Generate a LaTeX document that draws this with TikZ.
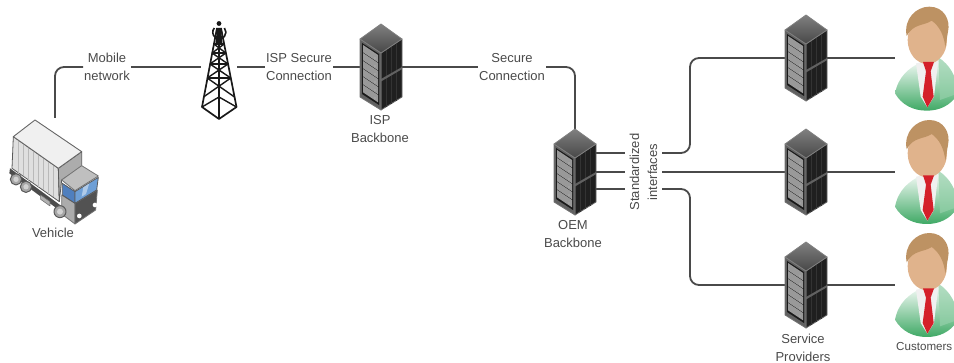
\documentclass[tikz,border=0pt]{standalone}
\usepackage{fontspec}
\setmainfont{Liberation Sans}
\definecolor{ink}{HTML}{4A4A4A}
\definecolor{wire}{HTML}{4A4A4A}
\definecolor{skin}{HTML}{E0B38C}
\definecolor{hair}{HTML}{BD9263}
\definecolor{tie}{HTML}{D4202A}
\definecolor{wind}{HTML}{6E9FD6}
\definecolor{windd}{HTML}{4F7FBE}
\definecolor{suit}{HTML}{3FA965}
\definecolor{suitm}{HTML}{A9D8B5}
\tikzset{
  lbl/.style={text=ink,align=center,inner sep=1pt,font=\fontsize{13}{18}\selectfont},
  conn/.style={draw=wire,line width=1.8pt,rounded corners=9pt},
  hold/.style={inner sep=0pt,minimum width=#1},
  serverpic/.pic={
    \fill[black!88,draw=black!60,line width=.8pt,line join=round] (0,-14)--(21,-28)--(21,30)--(0,43)--cycle;
    \foreach \v in {5,10,15} \draw[black!80,line width=.3pt] (\v,{-14-\v*.66})--(\v,{43-\v*.62});
    \fill[black!62] (0,12)--(21,0)--(21,2.2)--(0,14.5)--cycle;
    \fill[black!62,draw=black!55,line width=.8pt,line join=round] (-21,-28)--(0,-14)--(0,43)--(-21,30)--cycle;
    \fill[black!90] (-19,-24)--(-2,-13)--(-2,38)--(-19,27)--cycle;
    \foreach \i in {0,...,5}{
      \fill[gray!80] (-18,{-22+\i*8})--(-3,{-12+\i*8})--(-3,{-4.7+\i*8})--(-18,{-14.7+\i*8})--cycle;
      \fill[white] (-6,{-9+\i*8}) circle (.45);
    }
    \shade[top color=black!50,bottom color=black!72,draw=black!50,line width=.8pt,line join=round] (0,-43)--(21,-28)--(0,-14)--(-21,-28)--cycle;
  },
  personpic/.pic={
    \begin{scope}[x=.3333pt,y=-.3333pt,shift={(-470,-20)}]
      \shade[top color=white,middle color=suitm,bottom color=suit]
        (375,280) .. controls (385,230) and (415,205) .. (455,185) -- (505,172)
        .. controls (540,195) and (560,230) .. (565,280)
        .. controls (540,320) and (505,332) .. (470,332)
        .. controls (430,332) and (395,315) .. (375,280) -- cycle;
      \fill[suit!55,opacity=.7] (505,172) .. controls (540,195) and (560,230) .. (565,280) -- (510,300) -- cycle;
      \fill[gray!12] (438,190)--(505,180)--(492,290)--(472,322)--(452,290)--cycle;
      \fill[skin] (472,120) ellipse [x radius=59,y radius=72];
      \fill[hair] (410,108) .. controls (400,55) and (440,20) .. (478,20)
        .. controls (522,20) and (542,60) .. (534,95) -- (526,142)
        .. controls (522,105) and (508,78) .. (485,62)
        .. controls (462,78) and (430,70) .. (410,108) -- cycle;
      \fill[tie] (459,186)--(492,186)--(482,214)--(491,290)--(472,322)--(458,290)--(468,214)--cycle;
    \end{scope}
  }
}
\begin{document}
\begin{tikzpicture}[x=1pt,y=-1pt]
\useasboundingbox (0,0) rectangle (954,363);
\clip (0,0) rectangle (954,363);

% --- invisible anchor boxes
\node[hold=86pt,minimum height=100pt] (truck) at (55,168) {};
\node[hold=36pt,minimum height=104pt] (tower) at (219,67) {};
\node[hold=42pt,minimum height=86pt] (isp) at (381,67) {};
\node[hold=42pt,minimum height=86pt] (oem) at (575,172) {};
\node[hold=42pt,minimum height=86pt] (s1) at (806,58) {};
\node[hold=42pt,minimum height=86pt] (s2) at (806,172) {};
\node[hold=42pt,minimum height=86pt] (s3) at (806,285) {};
\node[hold=62pt,minimum height=104pt] (c1) at (926,58) {};
\node[hold=62pt,minimum height=104pt] (c2) at (926,172) {};
\node[hold=62pt,minimum height=104pt] (c3) at (926,285) {};
\coordinate (bus) at (690,172);
\coordinate (o1) at ([yshift=19pt]oem.east);
\coordinate (o3) at ([yshift=-17pt]oem.east);

% --- labels
\node[lbl] (lmob) at (107,67) {Mobile\\network};
\node[lbl] (lisp) at (299,67) {ISP Secure\\Connection};
\node[lbl] (lsec) at (512,67) {Secure\\Connection};
\node[lbl,rotate=90,minimum height=37pt,inner sep=0pt] (lstd) at (643.5,172) {Standardized\\interfaces};
\node[lbl] at (53,233) {Vehicle};
\node[lbl] at (380,129) {ISP\\Backbone};
\node[lbl] at (573,234) {OEM\\Backbone};
\node[lbl] at (803,347.5) {Service\\Providers};
\node[lbl,anchor=west,inner sep=0pt,font=\fontsize{11.6}{18}\selectfont] at (896,347) {Customers};

% --- connectors
\draw[conn] (truck.north) |- (lmob.west);
\draw[conn] (lmob.east) -- (tower.west);
\draw[conn] (tower.east) -- (lisp.west);
\draw[conn] (lisp.east) -- (isp.west);
\draw[conn] (isp.east) -- (lsec.west);
\draw[conn] (lsec.east) -| (oem.north);
\draw[conn] (o1) -- (o1 -| lstd.north);
\draw[conn] (oem.east) -- (lstd.north);
\draw[conn] (o3) -- (o3 -| lstd.north);
\draw[conn] (o1 -| lstd.south) -- (o1 -| bus) -- (bus |- s1.west) -- (s1.west);
\draw[conn] (lstd.south) -- (s2.west);
\draw[conn] (o3 -| lstd.south) -- (o3 -| bus) -- (bus |- s3.west) -- (s3.west);
\draw[conn] (s1.east) -- (c1.west);
\draw[conn] (s2.east) -- (c2.west);
\draw[conn] (s3.east) -- (c3.west);

% --- servers
\foreach \n in {isp,oem,s1,s2,s3} \pic at (\n) {serverpic};

% --- customers
\pic at (926.67,6.67) {personpic};
\pic at (926.67,120) {personpic};
\pic at (926.67,233) {personpic};

% --- tower
\begin{scope}[black!90,line width=1.4pt,line join=round]
  \draw[line width=1.7pt] (217,28)--(202,107)--(219,119)--(236.5,107)--(221,28);
  \draw (202,107)--(219,97)--(236.5,107);
  \draw (219,28)--(219,119);
  \foreach \a/\b in {97/78,78/64,64/53,53/44}{
    \pgfmathsetmacro{\wa}{2+(\a-28)*15.5/79}
    \pgfmathsetmacro{\wb}{2+(\b-28)*15.5/79}
    \draw ({219-\wa},\a)--({219+\wb},\b);
    \draw ({219+\wa},\a)--({219-\wb},\b);
    \draw ({219-\wb},\b)--({219+\wb},\b);
  }
  \fill (217,28)--(221,28)--(222.5,44)--(215.5,44)--cycle;
  \draw[line width=1.6pt] (214.3,28) arc[start angle=220,end angle=-40,radius=6.6];
  \fill (219,23.5) circle (2.4);
\end{scope}

% --- truck
\begin{scope}[x=.3333pt,y=-.3333pt,shift={(0,300)},line join=round]
  \fill[black!70] (30,205)--(180,315)--(190,330)--(170,325)--(28,220)--cycle;
  \foreach \p/\r in {48/17,78/17}{
    \pgfmathsetmacro{\q}{238+(\p-48)*.75}
    \fill[gray!70,draw=black!65,line width=1pt] (\p,\q) circle (\r);
    \fill[gray!35] (\p,\q) circle (8);
  }
  \fill[gray!60,draw=black!55,line width=.6pt] (122,285)--(150,305)--(150,318)--(122,298)--cycle;
  \fill[gray!25,draw=gray!70!black,line width=.8pt] (40,110)--(175,205)--(178,305)--(36,205)--cycle;
  \foreach \v in {55,70,...,165} \draw[gray!55,line width=.8pt] (\v,{110+(\v-40)*.7})--(\v,{205+(\v-36)*.7});
  \fill[gray!65,draw=gray!70!black,line width=.8pt] (175,205)--(245,155)--(245,200)--(185,240)--(178,305)--cycle;
  \fill[gray!12,draw=black!60,line width=.9pt] (105,60)--(245,155)--(175,205)--(40,110)--cycle;
  \fill[gray!65,draw=black!55,line width=.8pt] (185,285)--(225,310)--(225,372)--(185,342)--cycle;
  \fill[black!68,draw=black!55,line width=.8pt] (225,310)--(292,270)--(287,330)--(225,372)--cycle;
  \fill[gray!50,draw=black!55,line width=.8pt] (185,240)--(245,197)--(295,228)--(225,272)--cycle;
  \fill[windd,draw=black!65,line width=.8pt] (187,250)--(225,275)--(225,310)--(187,285)--cycle;
  \fill[wind,draw=black!65,line width=.8pt] (225,275)--(295,232)--(290,270)--(225,310)--cycle;
  \fill[white,opacity=.45] (250,262)--(268,250)--(258,282)--(245,290)--cycle;
  \fill[gray!70,draw=black!65,line width=1pt] (180,335) circle (18);
  \fill[gray!35] (180,335) circle (9);
  \fill[white] (238,348) circle (7);
  \fill[white] (285,315) circle (7);
\end{scope}
\end{tikzpicture}
\end{document}
